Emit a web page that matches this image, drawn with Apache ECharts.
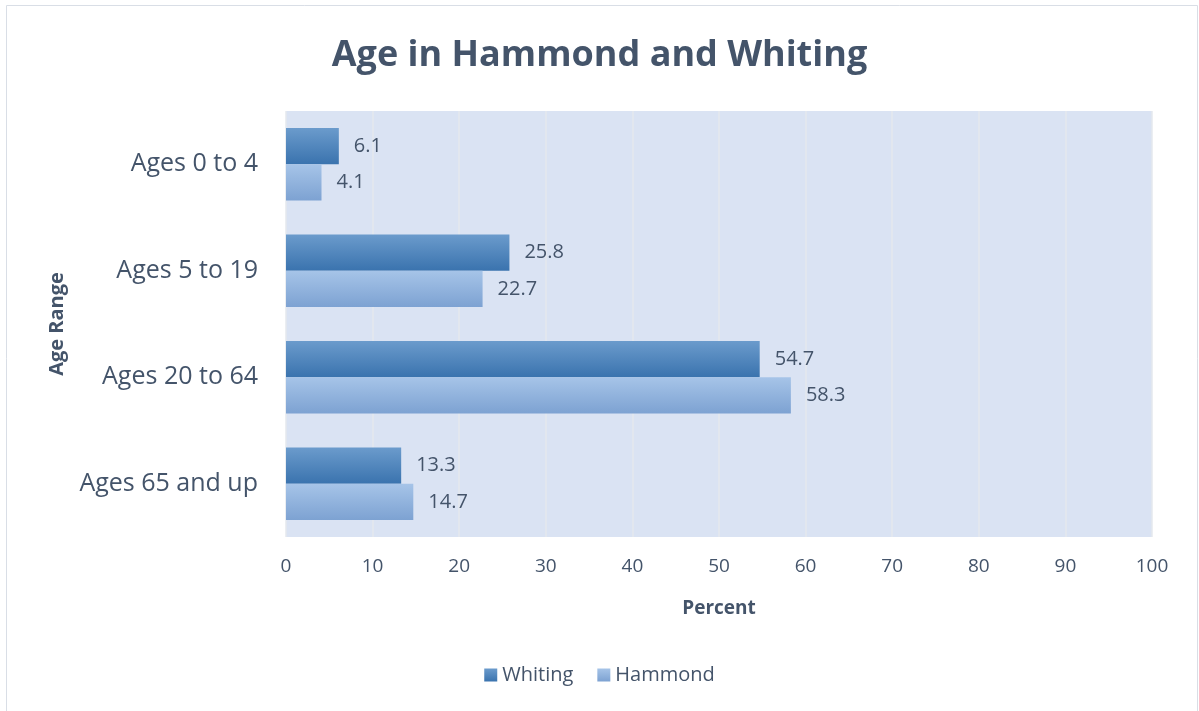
<!DOCTYPE html>
<html>
<head>
<meta charset="utf-8">
<script src="https://cdn.jsdelivr.net/npm/echarts@6/dist/echarts.min.js"></script>
<style>
  html, body { margin: 0; padding: 0; background: #ffffff; }
  #chart { width: 1199px; height: 711px; }
</style>
</head>
<body>
<div id="chart"></div>
<script>
// Age distribution (percent of population) for two Indiana cities
const categories = ['Ages 0 to 4', 'Ages 5 to 19', 'Ages 20 to 64', 'Ages 65 and up'];
const whiting = [6.1, 25.8, 54.7, 13.3];
const hammond = [4.1, 22.7, 58.3, 14.7];
const xTicks = [0, 10, 20, 30, 40, 50, 60, 70, 80, 90, 100];

const textColor = '#44546a';
const font = '"Open Sans", sans-serif';

function grad(top, bottom) {
  return new echarts.graphic.LinearGradient(0, 0, 0, 1, [
    { offset: 0, color: top },
    { offset: 1, color: bottom }
  ]);
}

const chart = echarts.init(document.getElementById('chart'), null, { renderer: 'canvas' });

const labelStyle = {
  show: true,
  position: 'right',
  distance: 15,
  color: textColor,
  fontFamily: font,
  fontSize: 20,
  formatter: p => p.value.toFixed(1)
};

chart.setOption({
  backgroundColor: '#ffffff',
  animation: false,
  graphic: [{
    type: 'rect',
    shape: { x: 6.5, y: 5.5, width: 1191, height: 720 },
    style: { fill: 'none', stroke: '#d9dee6', lineWidth: 1 },
    z: -1
  }],
  title: {
    text: 'Age in Hammond and Whiting',
    left: 'center',
    top: 33,
    textStyle: { color: textColor, fontFamily: font, fontWeight: 'bold', fontSize: 36 }
  },
  legend: {
    bottom: 21,
    left: 'center',
    itemWidth: 13,
    itemHeight: 13,
    itemGap: 24,
    icon: 'rect',
    textStyle: { color: textColor, fontFamily: font, fontSize: 20 },
    data: ['Whiting', 'Hammond']
  },
  grid: {
    left: 286, top: 111, right: 47, bottom: 174,
    show: true,
    backgroundColor: '#dae3f3',
    borderWidth: 0
  },
  xAxis: {
    type: 'value',
    min: 0, max: 100, interval: 10,
    name: 'Percent',
    nameLocation: 'middle',
    nameGap: 62,
    nameTextStyle: { color: textColor, fontFamily: font, fontWeight: 'bold', fontSize: 19 },
    axisLine: { show: false },
    axisTick: { show: false },
    axisLabel: {
      color: textColor, fontFamily: font, fontSize: 19, margin: 20,
      formatter: v => (xTicks.includes(v) ? String(v) : '')
    },
    splitLine: { show: true, lineStyle: { color: '#e5e8ee', width: 1.5 } }
  },
  yAxis: {
    type: 'category',
    inverse: true,
    data: categories,
    name: 'Age Range',
    nameLocation: 'middle',
    nameRotate: 90,
    nameGap: 219,
    nameTextStyle: { color: textColor, fontFamily: font, fontWeight: 'bold', fontSize: 20 },
    axisLine: { show: false },
    axisTick: { show: false },
    axisLabel: { color: textColor, fontFamily: font, fontSize: 25, margin: 28 }
  },
  series: [
    {
      name: 'Whiting',
      type: 'bar',
      data: whiting,
      barGap: '0%',
      barCategoryGap: '32%',
      itemStyle: { color: grad('#6b9bcc', '#3a73ae') },
      label: labelStyle
    },
    {
      name: 'Hammond',
      type: 'bar',
      data: hammond,
      itemStyle: { color: grad('#a6c4e8', '#7da2d2') },
      label: labelStyle
    }
  ]
});
</script>
</body>
</html>
